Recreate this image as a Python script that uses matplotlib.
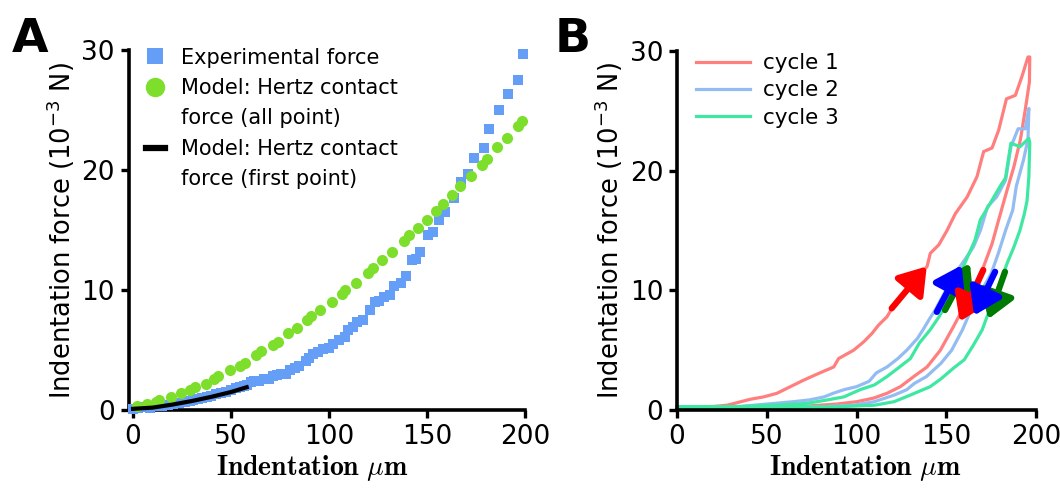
import matplotlib
matplotlib.use("Agg")
import matplotlib.pyplot as plt
from matplotlib.lines import Line2D

plt.rcParams['font.family'] = ['DejaVu Sans']

# ---- panel A data ----
exp_x = [0, 2.6, 5, 8.8, 12, 15, 18, 20.3, 23.5, 26.4, 29, 30.8, 33, 35.2, 37.5, 39.6,
         42.5, 44.9, 47.5, 50.2, 52.5, 54.6, 56.5, 58.1, 60, 61.7, 64.5, 67, 69.5, 71.4,
         73.5, 75.4, 78, 80.2, 82.5, 84.9, 88.5, 89.9, 91.6, 94.5, 96.9, 100, 102.2, 105,
         108.4, 109.6, 112, 114.5, 117.5, 120.7, 123.3, 125.5, 128.3, 131, 133, 136.5,
         139.2, 142.2, 144.5, 146.6, 150.7, 153, 155.9, 159.1, 163.9, 167.4, 171, 174,
         179.2, 181.5, 186.8, 191.3, 196.5, 199]
exp_y = [0.1, 0.2, 0.25, 0.2, 0.3, 0.3, 0.45, 0.5, 0.6, 0.7, 0.75, 0.8, 0.95, 1.0, 1.1, 1.2,
         1.3, 1.4, 1.5, 1.7, 1.8, 1.9, 2.0, 2.1, 2.3, 2.4, 2.45, 2.6, 2.6, 2.8,
         2.9, 3.0, 3.0, 3.3, 3.5, 3.7, 4.1, 4.3, 4.7, 4.8, 5.1, 5.2, 5.5, 5.8,
         6.1, 6.7, 6.9, 7.3, 7.5, 8.3, 9.0, 9.1, 9.4, 9.6, 10.3, 10.6,
         11.2, 12.5, 12.6, 13.2, 14.6, 14.8, 15.8, 16.5, 17.7, 19.0, 19.7, 21.0,
         21.8, 23.4, 25.0, 26.3, 27.5, 29.7]

hertz_all_x = [1.8, 7, 11.5, 13.2, 19.4, 24.7, 29.1, 31.7, 37, 41.4, 43.2, 49.3, 54.6, 56.9,
               62.6, 65.2, 71.4, 74, 79.3, 83.7, 89, 90.7, 95.2, 101.3, 106.6, 108.4, 113.7,
               119.8, 122.5, 126.9, 132.2, 138.4, 141, 145.4, 149.8, 154.7, 158, 162.6, 167,
               172.3, 178, 180.6, 185.9, 190.8, 196.2, 198.3]
hertz_all_y = [0.3, 0.5, 0.7, 0.8, 1.1, 1.4, 1.7, 1.9, 2.2, 2.6, 2.8, 3.3, 3.7, 3.9,
               4.6, 4.9, 5.4, 5.7, 6.4, 6.8, 7.5, 7.8, 8.3, 9.0, 9.7, 10.0, 10.6,
               11.4, 11.8, 12.5, 13.2, 14.1, 14.6, 15.2, 15.8, 16.6, 17.2, 17.9, 18.7,
               19.5, 20.4, 20.9, 21.9, 22.7, 23.7, 24.1]

hertz_first_x = [0, 10, 20, 30, 40, 50, 58]
hertz_first_y = [0.1, 0.2, 0.45, 0.75, 1.1, 1.5, 1.9]

# ---- panel B data ----
c1_x = [0, 20.4, 27.9, 40.9, 48.3, 55.7, 63.1, 70.6, 78, 87.3, 90, 98.4, 104, 108.6, 112.3,
        117, 119.8, 125, 130, 135, 139.3, 141.1, 145.8, 150.4, 155, 161.6, 167.1, 170.8,
        175.5, 179.2, 183.5, 188.5, 192.2, 195.5, 196.5,
        196.3, 194, 191.3, 187.6, 183.9, 179.2, 175.5, 170.8, 165, 159.7, 154.1, 146.7,
        139.3, 131.9, 124.4, 117, 109.6, 100.3, 89.1, 72.4, 53.9, 0]
c1_y = [0.2, 0.3, 0.4, 0.9, 1.1, 1.4, 1.95, 2.5, 3.0, 3.6, 4.3, 5.0, 5.7, 6.4, 7.1,
        7.8, 8.5, 9.6, 10.5, 11.2, 12.0, 13.1, 13.8, 15.0, 16.4, 17.8, 19.5, 21.6,
        21.9, 23.4, 26.0, 26.3, 27.9, 29.5, 29.5,
        27.4, 25.1, 22.6, 20.3, 18.4, 15.9, 13.9, 12.0, 10.2, 8.6, 7.0, 5.0,
        3.6, 2.8, 1.95, 1.4, 1.0, 0.7, 0.5, 0.33, 0.22, 0.15]

c2_x = [0, 35, 54, 65, 74, 82, 87, 93, 100, 107, 111, 117, 123, 128, 134, 137, 141, 144,
        149, 154, 160, 165, 169, 173, 178, 183, 186, 190, 194, 196,
        195.5, 193, 189, 187, 183, 179, 175, 169, 163, 159, 153, 147, 139, 132, 128, 121,
        110, 98, 82, 54, 0]
c2_y = [0.2, 0.3, 0.55, 0.7, 0.85, 1.1, 1.4, 1.7, 1.95, 2.4, 3.1, 3.6, 4.3, 5.0, 6.0, 6.7,
        7.7, 8.4, 9.8, 11.2, 12.5, 13.6, 15.0, 17.0, 17.8, 19.2, 22.0, 23.5, 23.5, 25.2,
        22.6, 20.9, 18.7, 16.7, 15.0, 13.1, 11.4, 9.8, 8.1, 6.7, 5.0, 3.9, 2.8, 2.2, 1.7,
        1.25, 0.7, 0.4, 0.28, 0.22, 0.15]

c3_x = [0, 35, 54, 72, 84, 93, 102, 110, 117, 124, 130, 135, 141, 146, 149, 155, 161,
        166, 169, 173, 180, 183, 186, 191, 196, 196.5,
        196, 195, 193.5, 191, 187.6, 184, 181, 177, 172.7, 170, 165, 160, 154, 147, 141,
        130, 121, 110, 91, 0]
c3_y = [0.28, 0.28, 0.4, 0.55, 0.85, 1.1, 1.7, 2.1, 2.8, 3.6, 4.3, 5.6, 6.7, 7.8, 8.6,
        10.5, 12.5, 14.2, 15.9, 16.9, 18.7, 19.4, 22.3, 22.0, 22.7, 22.3,
        19.5, 17.5, 16.4, 15.0, 13.6, 12.3, 11.1, 9.4, 7.8, 6.7, 5.4, 4.2, 3.5, 2.6, 1.95,
        1.25, 0.7, 0.4, 0.28, 0.22]

# direction arrows: (tail, tip, colour)
arrows_b = [
    ((119.6, 8.5), (139.1, 12.0), '#ff0000'),
    ((149.3, 8.35), (163.2, 12.25), '#007a00'),
    ((144.7, 8.2), (158.6, 12.1), '#0000ff'),
    ((170.6, 11.7), (157.5, 7.4), '#ff0000'),
    ((182.7, 11.55), (173.4, 7.6), '#007a00'),
    ((177.2, 11.55), (165.5, 7.9), '#0000ff'),
]

xticks = [0, 50, 100, 150, 200]
yticks = [0, 10, 20, 30]

col_exp = '#649ef7'
col_hertz = '#7ddf2c'
col_c1 = '#ff7f7f'
col_c2 = '#93bcf3'
col_c3 = '#3fe8a2'

TICK_FS = 19
YLAB = r'Indentation force (10$^{\mathdefault{-3}}$ N)'
XLAB = r'$\mathbf{Indentation}\ \mu\mathbf{m}$'


def style_axes(ax, left_offset, xlab_x):
    ax.set_xlim(0, 200)
    ax.set_ylim(0, 30)
    ax.set_xticks(xticks)
    ax.set_yticks(yticks)
    for s in ['top', 'right']:
        ax.spines[s].set_visible(False)
    for s in ['left', 'bottom']:
        ax.spines[s].set_linewidth(2.6)
    ax.spines['left'].set_position(('outward', left_offset))
    ax.tick_params(width=2.4, length=6, labelsize=TICK_FS, pad=4)
    ax.set_ylabel(YLAB, fontsize=18.5, labelpad=3)
    ax.set_xlabel(XLAB, fontsize=20, math_fontfamily='cm')
    # baseline of the x label sits ~65 px under the axis
    ax.xaxis.set_label_coords(xlab_x, -0.181)
    ax.xaxis.label.set_verticalalignment('baseline')
    for lab in ax.get_xticklabels() + ax.get_yticklabels():
        lab.set_clip_on(False)


fig = plt.figure(figsize=(10.6, 4.94), dpi=100)

# panel A
axA = fig.add_axes([0.1255, 0.170, 0.3698, 0.7287])
axA.plot(exp_x, exp_y, 's', color=col_exp, ms=7, mew=0, clip_on=False, zorder=3)
axA.plot(hertz_all_x, hertz_all_y, 'o', color=col_hertz, ms=8, mew=0, clip_on=False, zorder=3)
axA.plot(hertz_first_x, hertz_first_y, '-', color='black', lw=3, clip_on=False, zorder=4)
style_axes(axA, 3, 0.458)

handles_a = [
    Line2D([], [], ls='', marker='s', color=col_exp, ms=12, mew=0),
    Line2D([], [], ls='', marker='o', color=col_hertz, ms=14, mew=0),
    Line2D([], [], ls='', marker=None),
    Line2D([], [], ls='-', color='black', lw=4.5),
    Line2D([], [], ls='', marker=None),
]
labels_a = ['Experimental force', 'Model: Hertz contact', 'force (all point)',
            'Model: Hertz contact', 'force (first point)']
legA = axA.legend(handles_a, labels_a, loc='upper left', bbox_to_anchor=(0.012, 1.03),
                  frameon=False, fontsize=15, handlelength=0.9, handletextpad=0.8,
                  labelspacing=0.5, borderaxespad=0)
legA.set_clip_on(False)

# panel B
axB = fig.add_axes([0.6387, 0.170, 0.3387, 0.7267])
axB.plot(c1_x, c1_y, color=col_c1, lw=2.3, label='cycle 1', clip_on=False)
axB.plot(c2_x, c2_y, color=col_c2, lw=2.3, label='cycle 2', clip_on=False)
axB.plot(c3_x, c3_y, color=col_c3, lw=2.3, label='cycle 3', clip_on=False)
for tail, tip, c in arrows_b:
    axB.annotate('', xy=tip, xytext=tail,
                 arrowprops=dict(arrowstyle='-|>,head_length=0.75,head_width=0.5',
                                 color=c, lw=4.5, mutation_scale=21,
                                 shrinkA=0, shrinkB=0), zorder=5)
style_axes(axB, 0, 0.524)
axB.legend(loc='upper left', bbox_to_anchor=(0.03, 1.018), frameon=False, fontsize=15.5,
           handlelength=2.5, handletextpad=0.6, labelspacing=0.34, borderaxespad=0)

fig.text(0.011, 0.965, 'A', fontsize=34, fontweight='bold', va='top', ha='left')
fig.text(0.523, 0.965, 'B', fontsize=34, fontweight='bold', va='top', ha='left')

fig.savefig('out.png', dpi=100)
